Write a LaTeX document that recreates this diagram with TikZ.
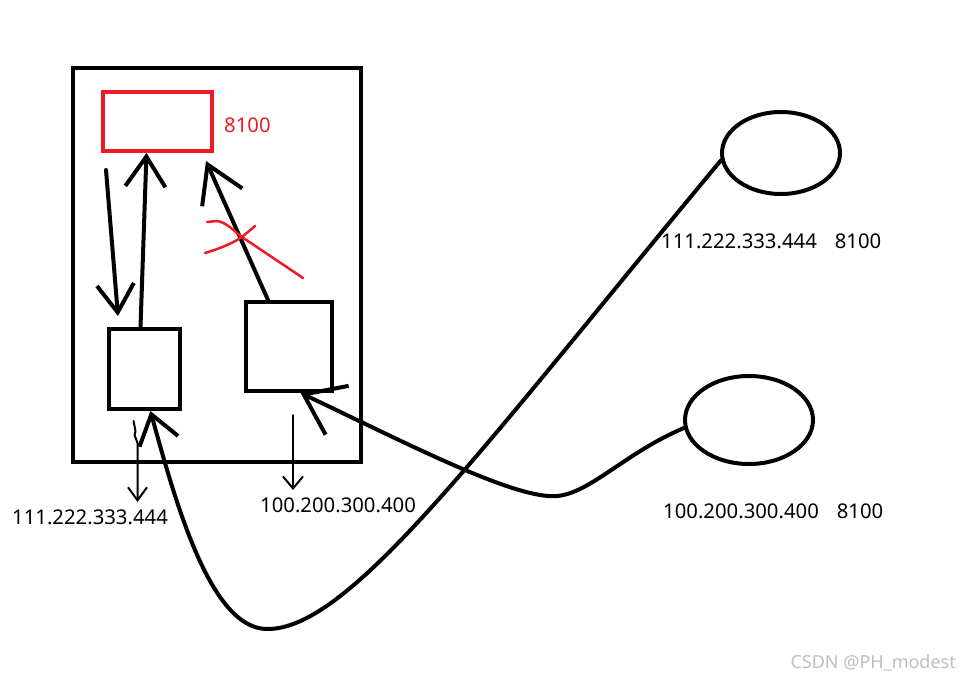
\documentclass[tikz,border=0pt]{standalone}
\usepackage{fontspec}
\setmainfont{Noto Sans}
\usetikzlibrary{arrows.meta,shapes.geometric,calc}
\definecolor{paintred}{RGB}{237,28,36}
\definecolor{markgray}{RGB}{190,190,190}

\begin{document}
\begin{tikzpicture}[
  x=1pt,y=-1pt,
  box/.style={draw,rectangle,line width=4pt,inner sep=0pt},
  srv/.style={draw,ellipse,line width=4pt,inner sep=0pt},
  ip/.style={font=\fontsize{20.3}{24}\selectfont,inner sep=0pt,anchor=west},
  pen/.style={line width=4pt,line cap=round,line join=round},
  fineline/.style={line width=2pt,line cap=round,line join=round},
  cross/.style={paintred,line width=2.5pt,line cap=round}]
  \useasboundingbox (0,0) rectangle (960,680);
  \node[box,minimum width=288pt,minimum height=394pt](host) at(217,265){};
  \node[box,draw=paintred,minimum width=109pt,minimum height=59pt](app) at(157.5,121.5){};
  \node[ip,text=paintred](port) at(224,125){8100};
  \node[box,minimum width=71pt,minimum height=80pt](lbox) at(144.5,369){};
  \node[box,minimum width=86pt,minimum height=89pt](rbox) at(289,346.5){};
  \node[srv,minimum width=118pt,minimum height=82pt](srvA) at(781,153){};
  \node[srv,minimum width=128pt,minimum height=88pt](srvB) at(749,420){};
  \node[ip](lip) at(12,517){111.222.333.444};
  \node[ip](rip) at(260,505.5){100.200.300.400};
  \node[ip](ipA) at(661,241.5){111.222.333.444\hspace{18pt}8100};
  \node[ip](ipB) at(663,511){100.200.300.400\hspace{18pt}8100};
  \node[font=\fontsize{18}{21}\selectfont,text=markgray,anchor=east,inner sep=0pt](mark) at(956,663){CSDN @PH\_modest};
  \draw[pen,-{Straight Barb[length=28pt,width=37pt]}]($(app.south west)+(5,17)$)--($(lbox.north west)+(11,-11)$);
  \draw[pen,-{Straight Barb[length=30pt,width=40pt]}]($(lbox.north)+(-4,0)$)--($(app.south)+(-11,0)$);
  \draw[pen,-{Straight Barb[length=36pt,width=44pt]}]($(rbox.north)+(-21,0)$)--($(app.south east)+(-8,8)$);
  \draw[cross](207,222)--(217,221) .. controls (226,222) and (234,231) .. (242,237)--(303,278);
  \draw[cross](255,226)--(242,237) .. controls (230,245) and (215,250) .. (205,253);
  \draw[pen,-{Straight Barb[length=28pt,width=40pt]}](srvA.187) .. controls (480,450) and (350,630) .. (267,629)
    .. controls (210,629) and (175,500) .. (lbox.-82);
  \draw[pen,-{Straight Barb[length=37pt,width=54pt]}](srvB.187) .. controls (620,455) and (585,500) .. (548,496)
    .. controls (500,492) and (400,440) .. (rbox.-76);
  \draw[fineline,-{Straight Barb[length=13pt,width=19pt]}]($(lbox.south)+(-11,10)$)--++(2,10)--++(-1,4)--++(3,8)
    --($(lbox.south)+(-7,91)$);
  \draw[fineline,-{Straight Barb[length=12pt,width=20pt]}]($(rbox.south)+(4,22)$)--($(rbox.south)+(4,97)$);
\end{tikzpicture}
\end{document}
